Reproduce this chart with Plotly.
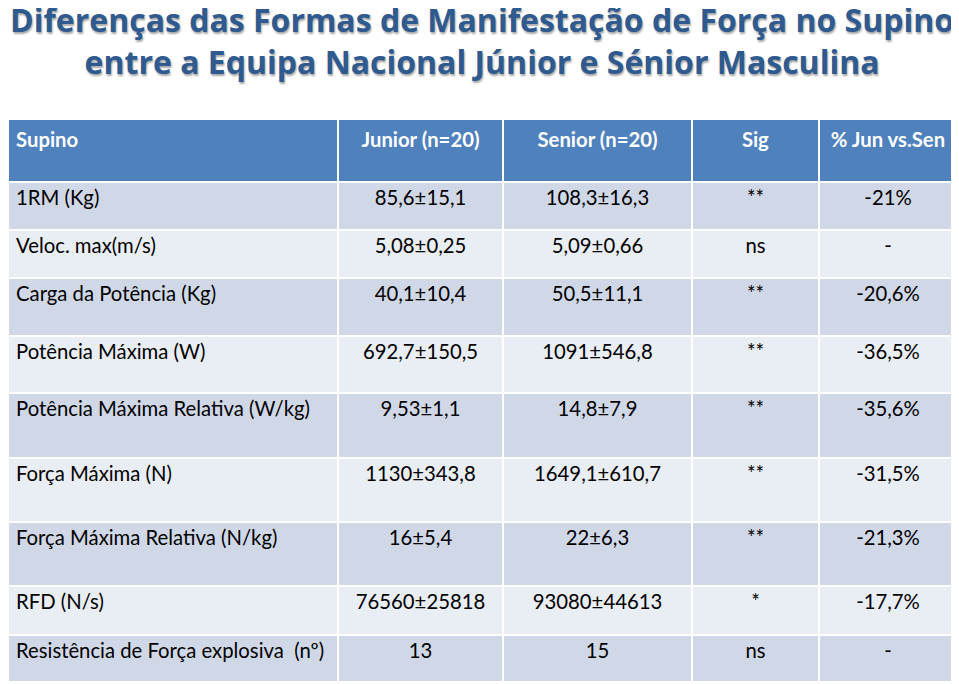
import plotly.graph_objects as go

# ---- data ----
title_lines = ["Diferenças das Formas de Manifestação de Força no Supino",
               "entre a Equipa Nacional Júnior e Sénior Masculina"]
headers = ["Supino", "Junior (n=20)", "Senior (n=20)", "Sig", "% Jun vs.Sen"]
variables = ["1RM (Kg)", "Veloc. max(m/s)", "Carga da Potência (Kg)", "Potência Máxima (W)",
             "Potência Máxima Relativa (W/kg)", "Força Máxima (N)",
             "Força Máxima Relativa (N/kg)", "RFD (N/s)", "Resistência de Força explosiva  (nº)"]
junior = ["85,6±15,1", "5,08±0,25", "40,1±10,4", "692,7±150,5", "9,53±1,1",
          "1130±343,8", "16±5,4", "76560±25818", "13"]
senior = ["108,3±16,3", "5,09±0,66", "50,5±11,1", "1091±546,8", "14,8±7,9",
          "1649,1±610,7", "22±6,3", "93080±44613", "15"]
sig = ["**", "ns", "**", "**", "**", "**", "**", "*", "ns"]
pct = ["-21%", "-", "-20,6%", "-36,5%", "-35,6%", "-31,5%", "-21,3%", "-17,7%", "-"]

# ---- layout constants (page body adds an 8px offset) ----
W, H = 951, 676
M_T, M_B, M_L, M_R = 111, 2, 0, 2
header_h = 63
row_heights = [47.5, 48.5, 58, 57, 64.5, 64.5, 64, 49, 47]
col_widths = [330, 165, 189, 127, 138]
HEADER_FILL = "#4F81BD"
ROW_FILLS = ["#D0D8E8", "#E9EDF4"]
FONT = "Lato"
FS = 20.3
TITLE_FONT = "Open Sans"
TITLE_FS = 32
title_top_px = -11.5   # top of title text box, px from figure top

PH = H - M_T - M_B
PW = W - M_L - M_R

fig = go.Figure()

def dom(top, h):
    y1 = 1 - top / PH
    y0 = 1 - (top + h + 0.5) / PH
    return [max(0, y0), min(1, y1)]

aligns = ["left", "center", "center", "center", "center"]

# header row
fig.add_trace(go.Table(
    domain=dict(x=[0, 1], y=dom(0, header_h)),
    columnwidth=col_widths,
    header=dict(values=[f"<b>{h}</b>" for h in headers], height=header_h,
                fill_color=HEADER_FILL, line=dict(color="white", width=2),
                align=aligns,
                font=dict(family=FONT, size=FS, color="white")),
    cells=dict(values=[[] for _ in headers])
))

top = header_h
for i in range(len(variables)):
    rh = row_heights[i]
    fig.add_trace(go.Table(
        domain=dict(x=[0, 1], y=dom(top, rh)),
        columnwidth=col_widths,
        header=dict(values=[variables[i], junior[i], senior[i], sig[i], pct[i]],
                    height=rh, fill_color=ROW_FILLS[i % 2],
                    line=dict(color="white", width=2),
                    align=aligns,
                    font=dict(family=FONT, size=FS, color="black")),
        cells=dict(values=[[] for _ in headers])
    ))
    top += rh

fig.add_annotation(
    text="<b>" + "<br>".join(title_lines) + "</b>", showarrow=False,
    xref="paper", yref="paper",
    x=(473.5 - M_L) / PW, xanchor="center",
    y=(H - M_B - title_top_px) / PH, yanchor="top",
    align="center",
    font=dict(family=TITLE_FONT, size=TITLE_FS, color="#2F5A8F",
              shadow="1px 2px 2px rgba(0,0,0,0.35)"))

fig.update_layout(
    width=W, height=H,
    margin=dict(l=M_L, r=M_R, t=M_T, b=M_B),
    paper_bgcolor="white",
)

fig.write_html("out.html")
